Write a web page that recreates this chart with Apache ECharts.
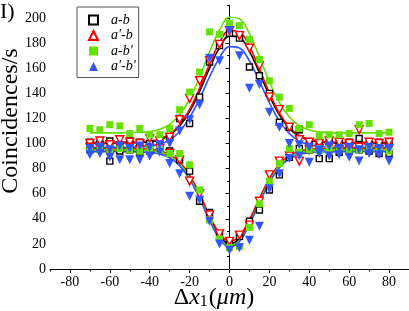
<!DOCTYPE html>
<html><head><meta charset="utf-8">
<script src="https://cdn.jsdelivr.net/npm/echarts@6/dist/echarts.min.js"></script>
<style>html,body{margin:0;padding:0;background:#fff}#c{width:409px;height:311px}</style>
</head><body><div id="c"></div>
<script>
// x positions (μm) of measured points and of the sampled fitted curves
const xVals = [-70,-65,-60,-55,-50,-45,-40,-35,-30,-25,-20,-15,-10,-5,0,5,10,15,20,25,30,35,40,45,50,55,60,65,70,75,80];
const xTickLabels = [-80,-60,-40,-20,0,20,40,60,80];
const xMinorTicks = [-90,-70,-50,-30,-10,10,30,50,70,90];
const yTickLabels = [0,20,40,60,80,100,120,140,160,180,200];
const yMinorTicks = [10,30,50,70,90,110,130,150,170,190,210];
const seriesNames = ["a-b","a'-b","a-b'","a'-b'"];

// measured points (upper = peak branch, lower = dip branch)
const abUp    = [101,100,102,99,102,101,100,103,105,120,116,137,165,178,188,184,161,154,140,117,113,111,99,98,103,100,101,104,99,101,100];
const abDown  = [95,96,86,94,95,93,94,96,94,87,78,54,45,26,21,26,38,47,63,75,89,96,95,88,88,93,94,95,94,92,92];
const apbUp   = [100,102,99,103,101,100,104,102,105,119,136,150,166,179,190,186,176,162,137,127,113,103,101,100,102,101,100,111,101,100,101];
const apbDown = [97,96,91,98,97,95,96,96,92,87,70,60,43,28,22,27,35,54,75,86,90,86,95,96,97,95,96,97,96,95,96];
const abpUp   = [112,111,115,114,108,112,107,107,112,127,141,157,189,187,196,194,183,167,150,137,128,112,115,106,107,107,108,115,116,108,109];
const abpDown = [96,95,94,96,95,94,96,95,92,92,83,63,39,24,17,18,33,52,70,84,96,93,95,94,96,95,94,95,96,95,94];
const apbpUp  = [96,97,95,98,96,98,97,99,100,110,119,131,168,166,190,170,144,147,125,113,100,99,97,95,98,96,97,95,97,96,96];
const apbpDown= [91,92,89,87,87,87,90,93,84,76,58,55,38,20,15,17,23,34,64,76,88,90,85,92,90,91,89,86,92,91,86];

// fitted curves at the same x positions
const abUpFit    = [100.5,100.5,100.5,100.5,100.6,100.8,101.4,103.1,106.8,113.9,125.5,141.6,160.1,176.4,185.6,184.5,173.5,156.4,138.2,122.8,112.1,105.8,102.7,101.3,100.8,100.5,100.5,100.5,100.5,100.5,100.5];
const apbUpFit   = [101,101,101,101,101.1,101.4,102.0,103.7,107.6,115.0,127.2,144.0,163.4,180.4,190.1,188.9,177.4,159.5,140.4,124.3,113.2,106.6,103.3,101.8,101.3,101,101,101,101,101,101];
const abpUpFit   = [108.5,108.5,108.5,108.5,108.8,108.9,109.5,111.3,115.3,123.0,135.6,153.0,173.0,190.5,200.6,199.4,187.5,169.0,149.2,132.6,121.1,114.3,110.8,109.3,108.8,108.5,108.5,108.5,108.5,108.5,108.5];
const apbpUpFit  = [97,97,97,97,97.1,97.3,97.9,99.4,102.9,109.6,120.6,135.7,153.1,168.4,177.2,176.1,165.8,149.7,132.5,118.0,107.9,102.0,99.0,97.7,97.2,97,97,97,97,97,97];
const abDownFit  = [95,95,95,95,95,94.8,94.4,93.2,90.2,84.0,73.4,58.2,40.9,26.4,20.0,24.4,37.6,54.7,70.6,82.3,89.3,92.8,94.3,94.8,95,95,95,95,95,95,95];
const apbDownFit = [96,96,96,96,96,95.8,95.4,94.2,91.3,85.2,74.7,59.7,42.6,28.4,22.0,26.3,39.3,56.3,72.0,83.5,90.4,93.8,95.3,95.8,96,96,96,96,96,96,96];
const abpDownFit = [95,95,95,95,95,94.8,94.4,93.2,90.1,83.8,72.8,57.2,39.4,24.6,18.0,22.5,36.0,53.7,70.0,82.0,89.1,92.7,94.2,94.8,95,95,95,95,95,95,95];
const apbpDownFit= [93.5,93.5,93.5,93.5,93.5,93.3,92.9,91.7,88.6,82.4,71.6,56.2,38.6,24.0,17.5,21.9,35.3,52.7,68.8,80.7,87.7,91.2,92.7,93.3,93.5,93.5,93.5,93.5,93.5,93.5,93.5];

const colors = ['#000000','#ff0000','#66e000','#3355ff'];
const serif = 'Liberation Serif';
const pair = arr => xVals.map((x,i)=>[x,arr[i]]);

const fitSets = [[abUpFit,abDownFit],[apbUpFit,apbDownFit],[abpUpFit,abpDownFit],[apbpUpFit,apbpDownFit]];
const ptSets = [[abUp,abDown],[apbUp,apbDown],[abpUp,abpDown],[apbpUp,apbpDown]];
const symDefs = [
  {symbol:'rect', size:6, rotate:0, fill:'#ffffff', border:1.4},
  {symbol:'triangle', size:8, rotate:180, fill:'#ffffff', border:1.4},
  {symbol:'rect', size:7, rotate:0, fill:colors[2], border:0},
  {symbol:'triangle', size:9, rotate:180, fill:colors[3], border:0}
];

const series = [];
fitSets.forEach((fs,k)=>{
  fs.forEach((f,j)=>{
    series.push({type:'line', name:seriesNames[k]+' fit'+j, data:pair(f), smooth:0.4, showSymbol:false,
      lineStyle:{color:colors[k], width:1.6}, silent:true, z:2});
  });
});
ptSets.forEach((ps,k)=>{
  const d = symDefs[k];
  const all = pair(ps[0]).concat(pair(ps[1]));
  series.push({type:'scatter', name:seriesNames[k], data:all, symbol:d.symbol, symbolSize:d.size,
    symbolRotate:d.rotate, symbolKeepAspect:true,
    itemStyle:{color:d.fill, borderColor:colors[k], borderWidth:d.border, opacity:1}, z:3});
});

const axisCommon = {
  axisLine:{show:true, lineStyle:{color:'#000', width:1}},
  splitLine:{show:false}
};

const option = {
  animation:false,
  grid:{left:50, right:0, top:5.5, bottom:42, containLabel:false},
  xAxis:[
    Object.assign({type:'value', min:-90, max:90, interval:10,
      axisTick:{show:true, inside:false, length:4, customValues:xTickLabels, lineStyle:{color:'#000'}},
      axisLabel:{show:true, customValues:xTickLabels, margin:6, color:'#000', fontFamily:serif, fontSize:14}}, axisCommon),
    {type:'value', min:-90, max:90, interval:10, position:'bottom',
      axisLine:{show:false}, splitLine:{show:false}, axisLabel:{show:false},
      axisTick:{show:true, length:2.5, customValues:xMinorTicks, lineStyle:{color:'#000'}}}
  ],
  yAxis:[
    Object.assign({type:'value', min:0, max:210, interval:10,
      axisTick:{show:true, inside:false, length:4, customValues:yTickLabels, lineStyle:{color:'#000'}},
      axisLabel:{show:true, customValues:yTickLabels, margin:4, color:'#000', fontFamily:serif, fontSize:14}}, axisCommon),
    {type:'value', min:0, max:210, interval:10, position:'left',
      axisLine:{show:false}, splitLine:{show:false}, axisLabel:{show:false},
      axisTick:{show:true, length:2.5, customValues:yMinorTicks, lineStyle:{color:'#000'}}}
  ],
  legend:{
    data:seriesNames, orient:'vertical', left:77, top:7,
    padding:[6,3,4,11], itemGap:1.5, itemWidth:9, itemHeight:9,
    borderColor:'#555', borderWidth:1, backgroundColor:'#fff',
    textStyle:{fontFamily:serif, fontStyle:'italic', fontSize:14, lineHeight:14, color:'#000', padding:[0,0,0,8]}
  },
  graphic:[
    {type:'text', left:0, top:1, style:{text:'I)', font:'22px "Liberation Serif"', fill:'#000'}},
    {type:'text', x:11, y:121, rotation:Math.PI/2,
      style:{text:'Coincidences/s', font:'24px "Liberation Serif"', fill:'#000', align:'center', verticalAlign:'middle'}},
    {type:'text', x:214, y:298,
      style:{text:'{u|Δ}{i|x}{s|1}{u|(}{i|μm}{u|)}', align:'center', verticalAlign:'middle',
        rich:{
          u:{font:'24px "Liberation Serif"', fill:'#000', verticalAlign:'bottom'},
          i:{font:'italic 24px "Liberation Serif"', fill:'#000', verticalAlign:'bottom'},
          s:{font:'16px "Liberation Serif"', fill:'#000', verticalAlign:'bottom', padding:[0,1,0,0]}
        }}}
  ],
  series:series
};

const chart = echarts.init(document.getElementById('c'), null, {renderer:'canvas'});
chart.setOption(option);
</script>
</body></html>
